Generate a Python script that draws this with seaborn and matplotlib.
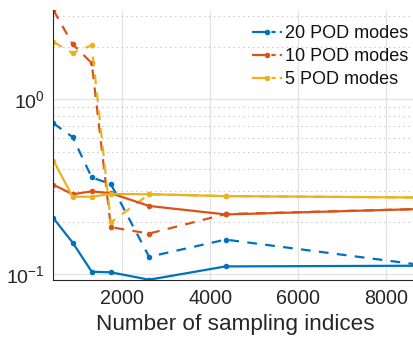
import numpy as np
import pandas as pd
import matplotlib
matplotlib.use("Agg")
import matplotlib.pyplot as plt
import seaborn as sns
from matplotlib.lines import Line2D
from matplotlib.ticker import LogLocator, FixedLocator, NullFormatter, FixedFormatter

# Number of sampling indices
n_samples = [435, 870, 1305, 1740, 2610, 4350, 8700]

# Error for each number of POD modes (dashed and solid variants)
err20_dashed = [0.729, 0.609, 0.358, 0.328, 0.126, 0.158, 0.114]
err20_solid = [0.209, 0.152, 0.1035, 0.1027, 0.0932, 0.111, 0.112]
err10_dashed = [3.23, 2.07, 1.61, 0.186, 0.171, 0.221, 0.236]
err10_solid = [0.325, 0.287, 0.298, 0.291, 0.246, 0.220, 0.236]
err5_dashed = [2.13, 1.84, 2.04, 0.198, 0.287, 0.280, 0.275]
err5_solid = [0.446, 0.278, 0.278, 0.288, 0.287, 0.280, 0.275]

labels = ["20 POD modes", "10 POD modes", "5 POD modes"]
colors = ["#0072BD", "#D95319", "#EDB120"]
x_ticks = [2000, 4000, 6000, 8000]

sns.set_theme(style="white")
plt.rcParams["font.family"] = ["Liberation Sans", "DejaVu Sans"]
plt.rcParams["mathtext.fontset"] = "custom"
plt.rcParams["mathtext.rm"] = "Liberation Sans"
plt.rcParams["mathtext.it"] = "Liberation Sans:italic"
plt.rcParams["lines.scale_dashes"] = False

fig = plt.figure(figsize=(4.14, 3.39), dpi=100)
W, H = 414.0, 339.0
left_px, right_px = 53.5, 416.8
top_px, bot_px = 10.3, 279.7
ax = fig.add_axes([left_px / W, 1 - bot_px / H,
                   (right_px - left_px) / W, (bot_px - top_px) / H])

dashed_sets = [err20_dashed, err10_dashed, err5_dashed]
solid_sets = [err20_solid, err10_solid, err5_solid]

lw = 1.6
ms = 4.0
dash_pat = (7.0, 6.0)

for vals, c in zip(dashed_sets, colors):
    sns.lineplot(x=n_samples, y=vals, ax=ax, color=c, lw=lw, marker="o",
                 markersize=ms, markeredgewidth=0, dashes=False)
    ax.lines[-1].set_dashes(dash_pat)
    ax.lines[-1].set_dash_capstyle("butt")

for vals, c in zip(solid_sets, colors):
    sns.lineplot(x=n_samples, y=vals, ax=ax, color=c, lw=lw, marker="o",
                 markersize=ms, markeredgewidth=0)

ax.set_yscale("log")
ax.set_xlim(n_samples[0], n_samples[-1])
all_vals = np.concatenate(dashed_sets + solid_sets)
ax.set_ylim(all_vals.min(), all_vals.max())

# ticks
ax.xaxis.set_major_locator(FixedLocator(x_ticks))
ax.set_xticklabels([str(t) for t in x_ticks])
ax.yaxis.set_major_locator(FixedLocator([0.1, 1.0]))
ax.yaxis.set_major_formatter(FixedFormatter([r"$10^{-1}$", r"$10^{0}$"]))
ax.yaxis.set_minor_locator(LogLocator(base=10, subs=np.arange(2, 10), numticks=20))
ax.yaxis.set_minor_formatter(NullFormatter())

spine_c = "#262626"
ax.tick_params(axis="x", which="major", direction="in", length=4, width=0.8,
               colors=spine_c, labelsize=14.2, pad=7)
ax.tick_params(axis="y", which="major", direction="in", length=4, width=0.8,
               colors=spine_c, labelsize=14, pad=6)
ax.tick_params(axis="y", which="minor", direction="in", length=2.2, width=0.6,
               colors=spine_c)
ax.tick_params(axis="x", which="minor", bottom=False)

for s in ["top", "right"]:
    ax.spines[s].set_visible(False)
for s in ["left", "bottom"]:
    ax.spines[s].set_color(spine_c)
    ax.spines[s].set_linewidth(0.8)

# grid
ax.grid(True, which="major", axis="both", color="#e3e3e3", lw=0.9, ls="-")
ax.grid(True, which="minor", axis="y", color="#c8c8c8", lw=0.8, ls=(0, (1, 2.5)))
ax.set_axisbelow(True)

ax.set_xlabel("Number of sampling indices", fontsize=16.2, color=spine_c, labelpad=4)
ax.set_ylabel("")

# legend in the upper right corner
handles = [Line2D([0], [0], color=c, lw=lw, marker="o", markersize=ms,
                  markeredgewidth=0, dashes=(11, 3, 3, 3), dash_capstyle="butt")
           for c in colors]
anchor_x = (415 - left_px) / (right_px - left_px)
anchor_y = 1.0 - (18 - top_px) / (bot_px - top_px)
leg = ax.legend(handles, labels, loc="upper right", frameon=False,
                fontsize=13, handlelength=1.65, handletextpad=0.15,
                labelspacing=0.33, borderaxespad=0.0,
                bbox_to_anchor=(anchor_x, anchor_y))
for t in leg.get_texts():
    t.set_color("#111111")

fig.savefig("out.png", dpi=100)
